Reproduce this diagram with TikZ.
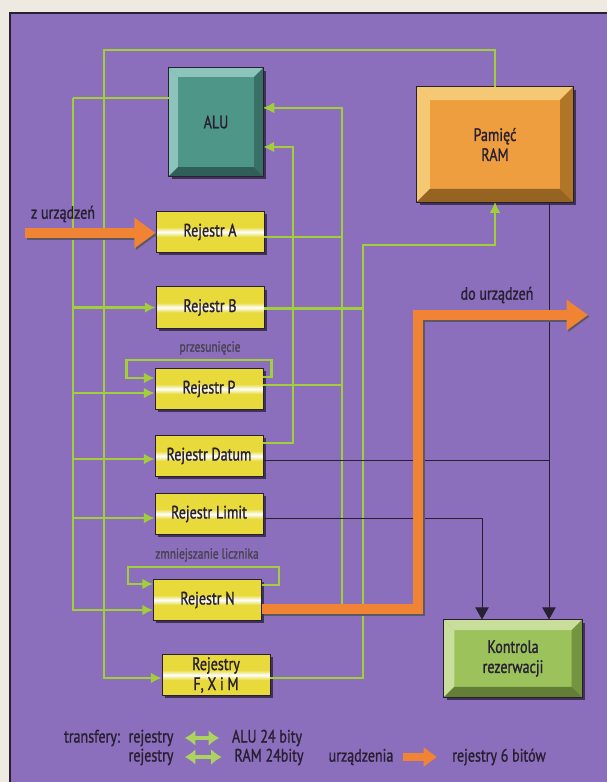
\documentclass[tikz,border=0pt]{standalone}
\usepackage{fontspec}
\setmainfont{PT Sans}[FakeStretch=0.78, FakeBold=1.2]
\usetikzlibrary{arrows.meta,calc,shadows}
\definecolor{paper}{RGB}{238,234,226}
\definecolor{panel}{RGB}{140,111,188}
\definecolor{ink}{RGB}{40,32,50}
\definecolor{wiregreen}{RGB}{162,206,58}
\definecolor{wirelight}{RGB}{172,210,96}
\definecolor{regy}{RGB}{232,218,58}
\definecolor{dev}{RGB}{240,132,52}
\definecolor{aluface}{RGB}{78,150,136}
\definecolor{alulight}{RGB}{140,196,188}
\definecolor{aludark}{RGB}{56,112,102}
\definecolor{ramface}{RGB}{238,158,62}
\definecolor{ramlight}{RGB}{245,200,116}
\definecolor{ramdark}{RGB}{176,118,40}
\definecolor{kface}{RGB}{156,194,92}
\definecolor{klight}{RGB}{200,222,154}
\definecolor{kdark}{RGB}{116,148,64}
\pgfdeclareverticalshading{regband}{100bp}{color(0bp)=(regy); color(44bp)=(regy); color(50bp)=(white); color(56bp)=(regy); color(100bp)=(regy)}
% bevelled edge of a block: node, size, light, dark
\newcommand{\bevel}[4]{%
  \fill[#3] (#1.north west) -- (#1.north east) -- ($(#1.north east)+(-#2,-#2)$) -- ($(#1.north west)+(#2,-#2)$) -- cycle;
  \fill[#3] (#1.north west) -- ($(#1.north west)+(#2,-#2)$) -- ($(#1.south west)+(#2,#2)$) -- (#1.south west) -- cycle;
  \fill[#4] (#1.north east) -- (#1.south east) -- ($(#1.south east)+(-#2,#2)$) -- ($(#1.north east)+(-#2,-#2)$) -- cycle;
  \fill[#4!85!black] (#1.south west) -- (#1.south east) -- ($(#1.south east)+(-#2,#2)$) -- ($(#1.south west)+(#2,#2)$) -- cycle;
  \draw[ink, line width=.6pt] (#1.north west) rectangle (#1.south east);}
\begin{document}
\begin{tikzpicture}[x=0.75pt, y=-0.75pt,
  >={Latex[length=8pt,width=8pt]},
  greenwire/.style={draw=wiregreen, line width=1.8pt},
  ctrl/.style={draw=ink, line width=.7pt, -{Triangle[length=9pt,width=10pt]}},
  devarrow/.style={draw=dev, line width=7.5pt, -{Triangle[length=16pt,width=22pt]}},
  devshade/.style={devarrow, draw=ink!75, transform canvas={shift={(1.2pt,-1.2pt)}}},
  reg/.style={draw=ink, line width=.6pt, shading=regband, minimum width=81pt, minimum height=31pt,
    inner sep=0pt, align=center, text=ink, font=\fontsize{13.5}{15}\selectfont,
    drop shadow={shadow xshift=2pt, shadow yshift=-2pt, opacity=.55, fill=black}},
  block/.style={draw=ink, line width=.6pt, inner sep=0pt,
    drop shadow={shadow xshift=2pt, shadow yshift=-2pt, opacity=.55, fill=black}},
  blocktext/.style={text=ink, align=center, font=\fontsize{13.5}{15}\selectfont},
  note/.style={text=ink!85, font=\fontsize{11}{13}\selectfont},
  legtext/.style={text=ink, font=\fontsize{13.5}{15}\selectfont},
  legwire/.style={draw=wirelight, line width=3.2pt, {Latex[length=8pt,width=12pt]}-{Latex[length=8pt,width=12pt]}, shorten <=5pt, shorten >=6pt},
  legdev/.style={draw=dev, line width=5.5pt, -{Triangle[length=10pt,width=14pt]}, shorten <=4pt, shorten >=8pt}]
\useasboundingbox (0,0) rectangle (607,782);
\fill[paper] (0,0) rectangle (607,782);
\filldraw[fill=panel, draw=ink, line width=.8pt] (10,13) rectangle (640,820);

% blocks
\node[block, fill=aluface, minimum width=70.5pt, minimum height=81pt] (alu) at (216,122) {};
\node[block, fill=ramface, minimum width=117pt, minimum height=86pt] (ram) at (495,144.5) {};
\node[block, fill=kface, minimum width=103.5pt, minimum height=58pt] (kr) at (513,658.5) {};
\bevel{alu}{7pt}{alulight}{aludark}
\bevel{ram}{10pt}{ramlight}{ramdark}
\bevel{kr}{8pt}{klight}{kdark}
\node[blocktext] (alut) at (alu) {ALU};
\node[blocktext] (ramt) at (ram) {Pamięć\\RAM};
\node[blocktext] (krt) at (kr) {Kontrola\\rezerwacji};

% registers
\node[reg] (ra) at (210,232) {Rejestr A};
\node[reg] (rb) at (210,307.5) {Rejestr B};
\node[reg] (rp) at (209,389) {Rejestr P};
\node[reg] (rd) at (209,456) {Rejestr Datum};
\node[reg] (rl) at (209,514) {Rejestr Limit};
\node[reg] (rn) at (207.5,600) {Rejestr N};
\node[reg] (rf) at (216,675) {Rejestry\\F, X i M};

% ALU -> registers
\coordinate (lbx) at (73,0);
\coordinate (aluout) at ($(alu.north west)!.28!(alu.south west)$);
\draw[greenwire] (aluout) -- (aluout -| lbx);
\foreach \r/\d in {rb/0,rp/4,rd/3,rl/4,rn/10}
  \draw[greenwire,->] (aluout -| lbx) |- ($(\r.west)+(0,\d)$);
% RAM -> registers
\coordinate (rbx) at (104,50);
\draw[greenwire,->] (ram.north) |- (rbx) |- ($(rf.west)+(0,3)$);
% registers -> ALU
\coordinate (aluin1) at ($(alu.north east)!.37!(alu.south east)$);
\coordinate (aluin2) at ($(alu.north east)!.73!(alu.south east)$);
\coordinate (ax1) at (342,0);
\coordinate (ax2) at (293,0);
\foreach \r/\d in {ra/5,rp/-4,rn/9}
  \draw[greenwire,->] ($(\r.east)+(0,\d)$) -| (ax1 |- aluin1) -- (aluin1);
\draw[greenwire,->] ($(rd.east)+(0,-13)$) -| (ax2 |- aluin2) -- (aluin2);
% registers -> RAM
\coordinate (rambus) at (363,245);
\foreach \r/\d in {rb/1,rf/3}
  \draw[greenwire,->] ($(\r.east)+(0,\d)$) -| (rambus) -| (ram.south);
% shift and count loops
\draw[greenwire,->] ($(rp.east)+(0,-12)$) -- ++(8,0) -- ++(0,-17) -| ($(rp.west)+(-28,-11)$) -- ($(rp.west)+(0,-11)$);
\draw[greenwire,->] ($(rn.east)+(0,-15)$) -- ++(17,0) -- ++(0,-18) -| ($(rn.west)+(-25,-16)$) -- ($(rn.west)+(0,-16)$);
\node[note] (plab) at (210,348) {przesunięcie};
\node[note] (nlab) at (207,555) {zmniejszanie licznika};

% control lines
\coordinate (kx1) at (482,0);
\coordinate (kx2) at (549,0);
\draw[ctrl] (ram.south -| kx2) -- (kr.north -| kx2);
\draw[draw=ink, line width=.7pt] ($(rd.east)+(0,4)$) coordinate (dout) -- (dout -| kx2);
\draw[ctrl] ($(rl.east)+(0,4)$) -| (kr.north -| kx1);

% devices
\coordinate (devin) at (25,233);
\coordinate (devout) at (588,315);
\coordinate (ox) at (418,0);
\draw[devshade] (devin) -- (devin -| ra.west);
\draw[devarrow] (devin) -- (devin -| ra.west);
\draw[devshade, line join=miter] ($(rn.east)+(0,9)$) -| (ox |- devout) -- (devout);
\draw[devarrow, line join=miter] ($(rn.east)+(0,9)$) -| (ox |- devout) -- (devout);
\node[legtext] (zin) at (63,214) {z urządzeń};
\node[legtext] (dlab) at (497,295) {do urządzeń};

% legend
\node[legtext] (tr) at (92,738) {transfery:};
\node[legtext] (rr1) at (151,738) {rejestry};
\node[legtext] (rr2) at (151,757) {rejestry};
\node[legtext] (alub) at (267,738) {ALU 24 bity};
\node[legtext] (ramb) at (269,757) {RAM 24bity};
\draw[legwire] (rr1) -- (alub);
\draw[legwire] (rr2) -- (ramb);
\node[legtext] (udev) at (361,757) {urządzenia};
\node[legtext] (r6) at (499,757) {rejestry 6 bitów};
\draw[legdev] (udev) -- (r6);
\end{tikzpicture}
\end{document}
